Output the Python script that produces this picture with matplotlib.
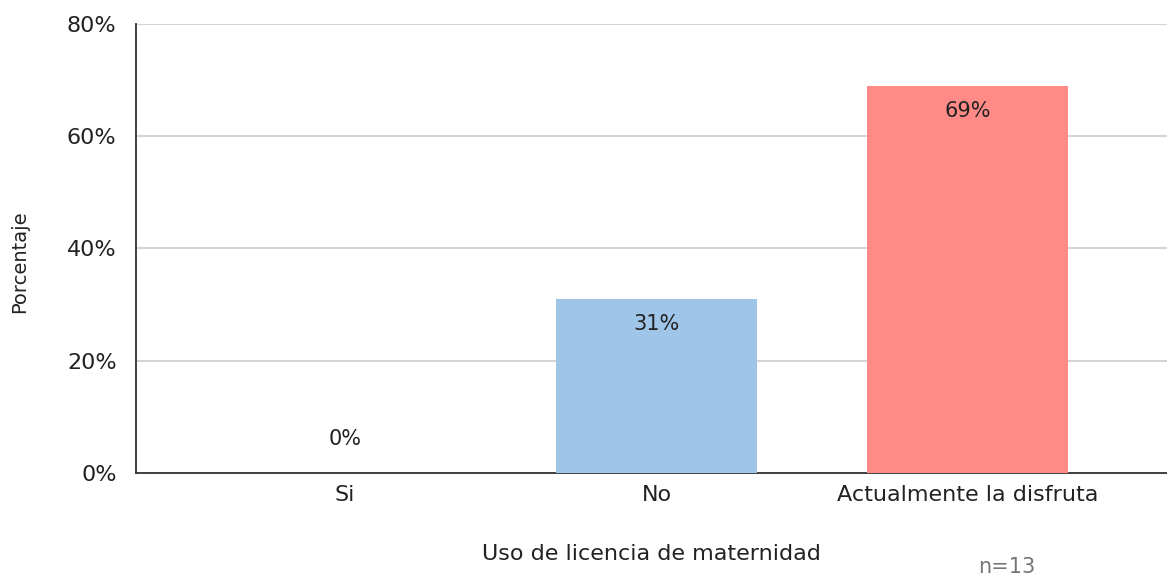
import matplotlib.pyplot as plt
from matplotlib.ticker import FuncFormatter

categorias = ['Si', 'No', 'Actualmente la disfruta']
porcentajes = [0, 31, 69]
colores = ['#9fc5e8', '#9fc5e8', '#ff8a86']
yticks = [0, 20, 40, 60, 80]

plt.rcParams['font.family'] = ['DejaVu Sans']

fig = plt.figure(figsize=(11.67, 5.75), dpi=100)
ax = fig.add_axes([0.1165, 0.1774, 0.8835, 0.7809])

x = list(range(len(categorias)))
ax.bar(x, porcentajes, width=0.645, color=colores, zorder=3)

# etiquetas de valor dentro de la barra (o encima si es ~0)
for xi, v in zip(x, porcentajes):
    if v > 5:
        ax.text(xi, v - 4.5, f'{v}%', ha='center', va='center', fontsize=15, color='#222222', zorder=4)
    else:
        ax.text(xi, v + 6.0, f'{v}%', ha='center', va='center', fontsize=15, color='#222222', zorder=4)

ax.set_xlim(-0.671, 2.639)
ax.set_ylim(0, 80)
ax.set_yticks(yticks)
ax.yaxis.set_major_formatter(FuncFormatter(lambda v, p: f'{int(v)}%'))
ax.set_xticks(x)
ax.set_xticklabels(categorias)
ax.tick_params(axis='both', length=0, labelsize=16, colors='#222222')
ax.tick_params(axis='y', pad=14)
ax.tick_params(axis='x', pad=9)

ax.grid(axis='y', color='#cccccc', linewidth=1.2, zorder=0)
ax.spines['top'].set_visible(False)
ax.spines['right'].set_visible(False)
ax.spines['left'].set_color('#333333')
ax.spines['bottom'].set_color('#333333')
ax.spines['left'].set_linewidth(1.3)
ax.spines['bottom'].set_linewidth(1.3)

ax.set_xlabel('Uso de licencia de maternidad', fontsize=16, color='#222222', labelpad=28)
ax.set_ylabel('Porcentaje', fontsize=14, color='#222222')
ax.yaxis.set_label_coords(-107 / 1031, 0.47)
fig.text(1007 / 1167, 1 - 567 / 575, 'n=13', fontsize=15, color='#757575', ha='center', va='center')

fig.savefig('out.png', dpi=100)
